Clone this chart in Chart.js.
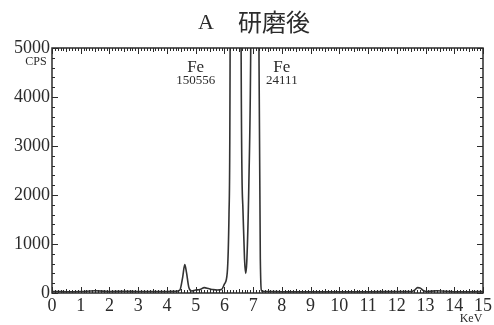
<!DOCTYPE html>
<html lang="ja">
<head>
  <meta charset="UTF-8">
  <title>A 研磨後</title>
  <style>
    body { margin: 0; background: #fff; }
    #wrap { width: 494px; height: 325px; }
  </style>
</head>
<body>
  <div id="wrap"><canvas id="chart"></canvas></div>

  <script src="https://cdn.jsdelivr.net/npm/chart.js"></script>
  <script>
    // spectrum (keV / CPS); Fe peaks run off the 5000 scale
    const energy = [0, 0.2, 0.5, 1.0, 1.5, 2.0, 2.5, 3.0, 3.5, 4.0, 4.3, 4.45, 4.55, 4.62, 4.68,
                    4.76, 4.86, 5.0, 5.15, 5.3, 5.45, 5.6, 5.75, 5.9, 6.0, 6.1, 6.16, 6.2, 6.4,
                    6.58, 6.64, 6.7, 6.74, 6.78, 6.85, 6.92, 7.06, 7.2, 7.25, 7.3, 7.4, 7.6, 8,
                    9, 10, 11, 12, 12.5, 12.62, 12.72, 12.82, 12.92, 13.05, 13.4, 14, 14.5, 15];
    const counts = [30, 30, 25, 30, 45, 30, 35, 30, 30, 30, 35, 60, 330, 580, 420,
                    120, 40, 60, 70, 110, 90, 70, 60, 70, 180, 420, 1600, 5300, 150556,
                    5300, 1800, 700, 400, 650, 2200, 5300, 24111, 5300, 700, 40, 30, 30, 25,
                    25, 25, 25, 30, 30, 60, 110, 100, 50, 30, 45, 25, 25, 30];
    const xTicks = [0, 1, 2, 3, 4, 5, 6, 7, 8, 9, 10, 11, 12, 13, 14, 15];
    const yTicks = [0, 1000, 2000, 3000, 4000, 5000];
    const peakNames = ['Fe', 'Fe'];
    const peakCounts = ['150556', '24111'];
    const peakLabelKeV = [5.0, 8.0];

    const SERIF = '"Liberation Serif", "DejaVu Serif", serif';
    const INK = '#2b2b2b';

    // frame with inward ticks on all four sides, plus the text bits
    const frame = {
      id: 'frame',
      afterDatasetsDraw(chart) {
        const { ctx, chartArea: a, scales: { x, y } } = chart;
        ctx.save();
        ctx.strokeStyle = INK;
        ctx.lineWidth = 1.5;
        ctx.strokeRect(a.left, a.top, a.right - a.left, a.bottom - a.top);

        ctx.lineWidth = 1;
        ctx.beginPath();
        for (let i = 0; i <= 150; i++) {
          const px = Math.round(x.getPixelForValue(i / 10)) + 0.5;
          const len = i % 10 === 0 ? 6 : (i % 5 === 0 ? 4 : 3);
          ctx.moveTo(px, a.bottom); ctx.lineTo(px, a.bottom - len);
          ctx.moveTo(px, a.top); ctx.lineTo(px, a.top + len);
        }
        for (let v = 0; v <= 5000; v += 200) {
          const py = Math.round(y.getPixelForValue(v)) + 0.5;
          const len = v % 1000 === 0 ? 6 : 3;
          ctx.moveTo(a.left, py); ctx.lineTo(a.left + len, py);
          ctx.moveTo(a.right, py); ctx.lineTo(a.right - len, py);
        }
        ctx.stroke();

        ctx.fillStyle = INK;
        ctx.textAlign = 'center';
        ctx.textBaseline = 'middle';
        peakNames.forEach((name, i) => {
          const px = x.getPixelForValue(peakLabelKeV[i]);
          ctx.font = '17px ' + SERIF;
          ctx.fillText(name, px, a.top + 20);
          ctx.font = '13px ' + SERIF;
          ctx.fillText(peakCounts[i], px, a.top + 33);
        });

        ctx.font = '12px ' + SERIF;
        ctx.fillText('CPS', 36, a.top + 14);
        ctx.fillText('KeV', 471, 319);

        // title
        ctx.font = '22px ' + SERIF;
        ctx.fillText('A', 206, 23);
        ctx.font = '24px "Noto Sans CJK JP", serif';
        ctx.textAlign = 'left';
        ctx.fillText('研磨後', 238, 22);
        ctx.restore();
      }
    };

    const ctx = document.getElementById('chart').getContext('2d');
    new Chart(ctx, {
      type: 'line',
      data: {
        datasets: [{
          data: energy.map((e, i) => ({ x: e, y: counts[i] })),
          borderColor: '#333',
          borderWidth: 1.6,
          pointRadius: 0,
          fill: false,
          cubicInterpolationMode: 'monotone'
        }]
      },
      options: {
        responsive: true,
        maintainAspectRatio: false,
        animation: false,
        layout: { padding: { top: 48, left: 0, right: 11, bottom: 0 } },
        plugins: { legend: { display: false }, tooltip: { enabled: false } },
        scales: {
          x: {
            type: 'linear',
            min: 0,
            max: 15,
            afterFit(s) { s.height = 32; },
            afterBuildTicks(s) { s.ticks = xTicks.map(v => ({ value: v })); },
            grid: { display: false, drawTicks: false },
            border: { display: false },
            ticks: { color: INK, padding: 2, maxRotation: 0, font: { family: SERIF, size: 18 } }
          },
          y: {
            min: 0,
            max: 5000,
            afterFit(s) { s.width = 52; },
            afterBuildTicks(s) { s.ticks = yTicks.map(v => ({ value: v })); },
            grid: { display: false, drawTicks: false },
            border: { display: false },
            ticks: {
              color: INK, padding: 2, font: { family: SERIF, size: 18 },
              callback: v => String(v)
            }
          }
        }
      },
      plugins: [frame]
    });
  </script>
</body>
</html>
